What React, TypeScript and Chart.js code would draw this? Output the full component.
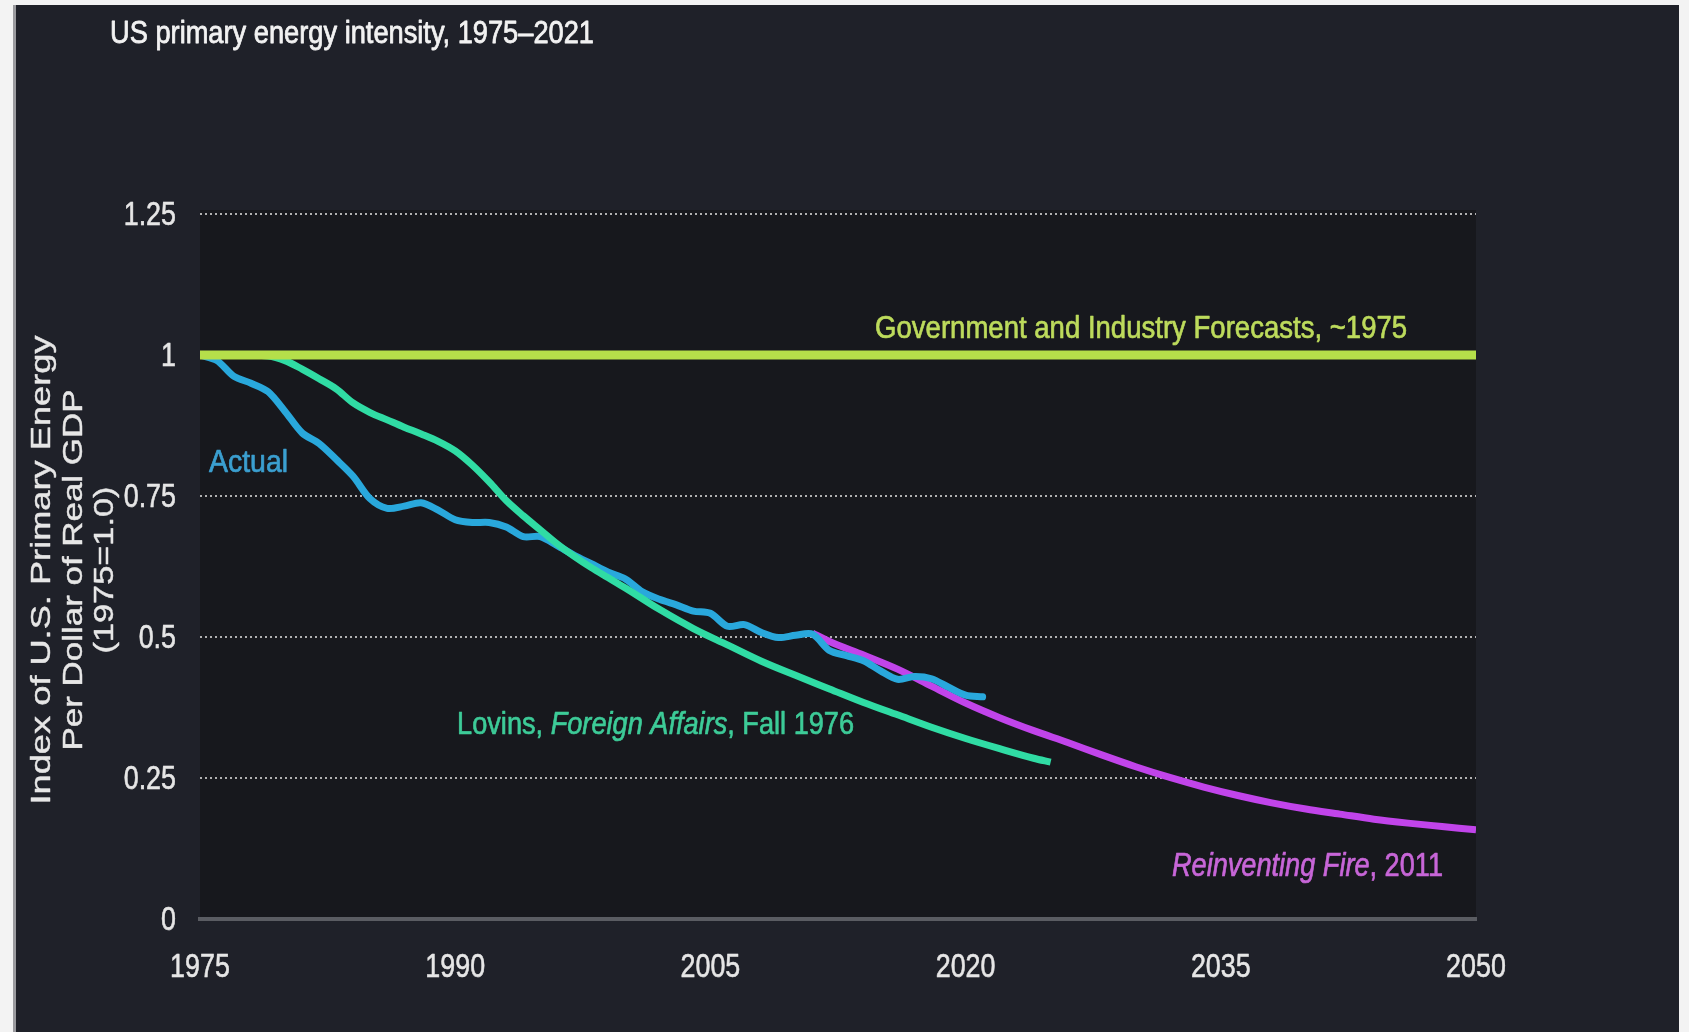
import React, { useEffect, useRef } from "react";
import { Chart, registerables } from "chart.js";

Chart.register(...registerables);

const W = 1689;
const H = 1032;

// ---------- data ----------
const govYears = [1975, 2050];
const govValues = [1, 1];

const actualYears = [
  1975, 1976, 1977, 1978, 1979, 1980, 1981, 1982, 1983, 1984, 1985, 1986,
  1987, 1988, 1989, 1990, 1991, 1992, 1993, 1994, 1995, 1996, 1997, 1998,
  1999, 2000, 2001, 2002, 2003, 2004, 2005, 2006, 2007, 2008, 2009, 2010,
  2011, 2012, 2013, 2014, 2015, 2016, 2017, 2018, 2019, 2020, 2021,
];
const actualValues = [
  1.0, 0.99, 0.962, 0.95, 0.935, 0.9, 0.862, 0.843, 0.815, 0.785, 0.745, 0.728,
  0.732, 0.738, 0.725, 0.708, 0.703, 0.703, 0.695, 0.678, 0.678, 0.662, 0.645, 0.63,
  0.615, 0.603, 0.58, 0.567, 0.557, 0.546, 0.542, 0.519, 0.522, 0.508, 0.499, 0.503,
  0.505, 0.476, 0.467, 0.458, 0.44, 0.425, 0.43, 0.426, 0.411, 0.397, 0.394,
];

const lovinsYears = [
  1975, 1977, 1979, 1980, 1981, 1982, 1983, 1984, 1985, 1986, 1987, 1988, 1989,
  1990, 1991, 1992, 1993, 1994, 1995, 1996, 1997, 1998, 1999, 2000, 2002, 2004,
  2006, 2008, 2010, 2012, 2014, 2016, 2018, 2020, 2022, 2024, 2025,
];
const lovinsValues = [
  1.0, 1.0, 0.998, 0.99, 0.975, 0.958, 0.94, 0.915, 0.898, 0.885, 0.872, 0.86, 0.847,
  0.83, 0.805, 0.775, 0.742, 0.715, 0.69, 0.665, 0.643, 0.623, 0.605, 0.587, 0.549, 0.515,
  0.486, 0.457, 0.432, 0.408, 0.384, 0.362, 0.34, 0.32, 0.302, 0.285, 0.278,
];

const fireYears = [
  2011, 2012, 2014, 2016, 2018, 2020, 2022, 2024, 2026, 2028, 2030, 2032, 2034,
  2036, 2038, 2040, 2042, 2044, 2046, 2048, 2050,
];
const fireValues = [
  0.507, 0.492, 0.468, 0.443, 0.413, 0.383, 0.357, 0.334, 0.313, 0.291, 0.27, 0.251,
  0.234, 0.219, 0.206, 0.195, 0.186, 0.177, 0.17, 0.164, 0.158,
];

const xTickYears = [1975, 1990, 2005, 2020, 2035, 2050];
const yTickValues = [0, 0.25, 0.5, 0.75, 1, 1.25];
const yTickLabels = ["0", "0.25", "0.5", "0.75", "1", "1.25"];

const titleText = "US primary energy intensity, 1975\u20132021";
const yTitleLines = ["Index of U.S. Primary Energy", "Per Dollar of Real GDP", "(1975=1.0)"];

const seriesLabels = {
  gov: "Government and Industry Forecasts, ~1975",
  actual: "Actual",
  lovins: "Lovins, Foreign Affairs, Fall 1976",
  fire: "Reinventing Fire, 2011",
};

// ---------- styles ----------
const FAMILY = '"Liberation Sans", Arial, sans-serif';

const COLORS = {
  gov: "#b5df4a",
  lovins: "#30dca4",
  actual: "#29a8dc",
  fire: "#c144ea",
  govText: "#bddb5c",
  lovinsText: "#3dcb98",
  actualText: "#3b9fd0",
  fireText: "#c866d8",
  tick: "#e6e6e6",
};

type Seg = { t: string; italic?: boolean };
type TextOpts = {
  width?: number;
  k?: number;
  size: number;
  color: string;
  align?: "left" | "center" | "right";
  rotate?: boolean;
  stroke?: number;
};

function drawText(ctx: CanvasRenderingContext2D, segs: Seg[], x: number, y: number, o: TextOpts) {
  ctx.save();
  let total = 0;
  const fontOf = (s: Seg) => `${s.italic ? "italic " : ""}${o.size}px ${FAMILY}`;
  const widths = segs.map((s) => {
    ctx.font = fontOf(s);
    const w = ctx.measureText(s.t).width;
    total += w;
    return w;
  });
  const k = o.width ? o.width / total : o.k || 1;
  ctx.translate(x, y);
  if (o.rotate) ctx.rotate(-Math.PI / 2);
  ctx.scale(k, 1);
  ctx.fillStyle = o.color;
  ctx.strokeStyle = o.color;
  ctx.lineWidth = o.stroke || 0;
  ctx.lineJoin = "round";
  ctx.textBaseline = "middle";
  ctx.textAlign = "left";
  let cx = o.align === "center" ? -total / 2 : o.align === "right" ? -total : 0;
  segs.forEach((s, i) => {
    ctx.font = fontOf(s);
    ctx.fillText(s.t, cx, 0);
    if (o.stroke) ctx.strokeText(s.t, cx, 0);
    cx += widths[i];
  });
  ctx.restore();
}

const toXY = (xs: number[], ys: number[]) => xs.map((x, i) => ({ x, y: ys[i] }));

const backgroundPlugin = {
  id: "bgPlugin",
  beforeDraw(chart: any) {
    const ctx: CanvasRenderingContext2D = chart.ctx;
    ctx.save();
    ctx.fillStyle = "#f3f3f3";
    ctx.fillRect(0, 0, W, H);
    ctx.fillStyle = "#9a9a9e";
    ctx.fillRect(13, 5, 3, H - 5);
    ctx.fillStyle = "#1f2129";
    ctx.fillRect(16, 5, 1663, H - 5);
    const { left, top, right, bottom } = chart.chartArea;
    ctx.fillStyle = "#17181d";
    ctx.fillRect(left, top - 4, right - left, bottom - top + 4);
    ctx.restore();
  },
};

const textPlugin = {
  id: "textPlugin",
  afterDraw(chart: any) {
    const ctx: CanvasRenderingContext2D = chart.ctx;
    const xs = chart.scales.x;
    const ys = chart.scales.y;
    const px = (v: number) => xs.getPixelForValue(v);
    const py = (v: number) => ys.getPixelForValue(v);
    const { left, bottom } = chart.chartArea;
    const dy = 2; // visual centring of caps/digits

    // tick labels (condensed, from the library's tick list)
    xs.ticks.forEach((t: any) => {
      drawText(ctx, [{ t: String(t.value) }], px(t.value), bottom + 49, {
        k: 0.79, size: 34, color: COLORS.tick, align: "center", stroke: 0.6,
      });
    });
    ys.ticks.forEach((t: any, i: number) => {
      drawText(ctx, [{ t: yTickLabels[i] }], left - 24, py(t.value) + dy, {
        k: 0.79, size: 34, color: COLORS.tick, align: "right", stroke: 0.6,
      });
    });

    // main title
    drawText(ctx, [{ t: titleText }], 110, 34, { width: 484, size: 32, color: "#f2f2f2", stroke: 0.8 });

    // y-axis title (rotated, three lines)
    const yTitleX = [43, 75, 106];
    const yTitleLen = [469, 361, 167];
    yTitleLines.forEach((line, i) => {
      drawText(ctx, [{ t: line }], yTitleX[i], 570, {
        width: yTitleLen[i], size: 27, color: "#e6e6e6", align: "center", rotate: true, stroke: 0.4,
      });
    });

    // series annotations
    drawText(ctx, [{ t: seriesLabels.gov }], px(2014.68), py(1.0496) + dy, {
      width: 532, size: 32, color: COLORS.govText, stroke: 0.7,
    });
    drawText(ctx, [{ t: seriesLabels.actual }], px(1975.53), py(0.812) + dy, {
      width: 79, size: 32, color: COLORS.actualText, stroke: 0.7,
    });
    drawText(
      ctx,
      [{ t: "Lovins, " }, { t: "Foreign Affairs", italic: true }, { t: ", Fall 1976" }],
      px(1990.11),
      py(0.3475) + dy,
      { width: 397, size: 32, color: COLORS.lovinsText, stroke: 0.7 }
    );
    drawText(
      ctx,
      [{ t: "Reinventing Fire", italic: true }, { t: ", 2011" }],
      px(2032.13),
      py(0.0957) + dy,
      { width: 271, size: 33, color: COLORS.fireText, stroke: 0.7 }
    );
  },
};

export default function App() {
  const ref = useRef<HTMLCanvasElement | null>(null);

  useEffect(() => {
    if (!ref.current) return;
    const chart = new Chart(ref.current, {
      type: "line",
      data: {
        datasets: [
          {
            label: seriesLabels.gov,
            data: toXY(govYears, govValues),
            borderColor: COLORS.gov,
            borderWidth: 9,
            pointRadius: 0,
            tension: 0,
            borderCapStyle: "butt",
          },
          {
            label: seriesLabels.lovins,
            data: toXY(lovinsYears, lovinsValues),
            borderColor: COLORS.lovins,
            borderWidth: 7,
            pointRadius: 0,
            cubicInterpolationMode: "monotone",
            borderCapStyle: "butt",
          },
          {
            label: seriesLabels.actual,
            data: toXY(actualYears, actualValues),
            borderColor: COLORS.actual,
            borderWidth: 7,
            pointRadius: 0,
            tension: 0.3,
            borderCapStyle: "round",
            borderJoinStyle: "round",
          },
          {
            label: seriesLabels.fire,
            data: toXY(fireYears, fireValues),
            borderColor: COLORS.fire,
            borderWidth: 7,
            pointRadius: 0,
            cubicInterpolationMode: "monotone",
            borderCapStyle: "butt",
          },
        ] as any,
      },
      options: {
        animation: false,
        responsive: false,
        parsing: false as any,
        normalized: true,
        layout: { padding: { left: 0, top: 214, right: 213, bottom: 0 } },
        plugins: {
          legend: { display: false },
          tooltip: { enabled: false },
          title: { display: false },
        },
        scales: {
          x: {
            type: "linear",
            min: 1975,
            max: 2050,
            afterBuildTicks: (s: any) => {
              s.ticks = xTickYears.map((v) => ({ value: v }));
            },
            afterFit: (s: any) => {
              s.height = 113;
            },
            ticks: {
              display: false,
              callback: (v: any) => String(v),
              autoSkip: false,
            },
            grid: { display: false },
            border: { display: true, color: "#5a5c62", width: 4 },
          },
          y: {
            type: "linear",
            min: 0,
            max: 1.25,
            afterBuildTicks: (s: any) => {
              s.ticks = yTickValues.map((v) => ({ value: v }));
            },
            afterFit: (s: any) => {
              s.width = 200;
            },
            ticks: {
              display: false,
              callback: (_v: any, i: number) => yTickLabels[i],
            },
            grid: {
              color: "rgba(215,215,215,0.8)",
              lineWidth: 2,
              drawTicks: false,
            },
            border: { display: false, dash: [2, 3] },
          },
        },
      } as any,
      plugins: [backgroundPlugin, textPlugin],
    });
    return () => chart.destroy();
  }, []);

  return (
    <div style={{ position: "fixed", left: 0, top: 0, width: W, height: H }}>
      <canvas ref={ref} width={W} height={H} style={{ display: "block", width: W, height: H }} />
    </div>
  );
}
